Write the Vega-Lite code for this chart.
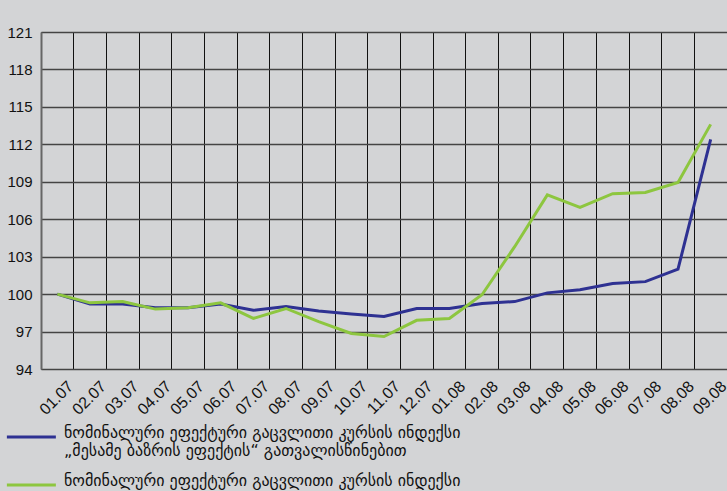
{
  "$schema": "https://vega.github.io/schema/vega-lite/v6.json",
  "width": 686,
  "height": 337,
  "autosize": {"type": "none"},
  "padding": {"left": 41, "top": 32, "right": 0, "bottom": 122},
  "background": "#d3d4d6",
  "config": {
    "view": {"stroke": null},
    "font": "Liberation Sans"
  },
  "data": {
    "values": [
      {"period": "01.07", "series": "ნომინალური ეფექტური გაცვლითი კურსის ინდექსი\n„მესამე ბაზრის ეფექტის“ გათვალისწინებით", "value": 100.0},
      {"period": "02.07", "series": "ნომინალური ეფექტური გაცვლითი კურსის ინდექსი\n„მესამე ბაზრის ეფექტის“ გათვალისწინებით", "value": 99.2},
      {"period": "03.07", "series": "ნომინალური ეფექტური გაცვლითი კურსის ინდექსი\n„მესამე ბაზრის ეფექტის“ გათვალისწინებით", "value": 99.2},
      {"period": "04.07", "series": "ნომინალური ეფექტური გაცვლითი კურსის ინდექსი\n„მესამე ბაზრის ეფექტის“ გათვალისწინებით", "value": 98.9},
      {"period": "05.07", "series": "ნომინალური ეფექტური გაცვლითი კურსის ინდექსი\n„მესამე ბაზრის ეფექტის“ გათვალისწინებით", "value": 98.9},
      {"period": "06.07", "series": "ნომინალური ეფექტური გაცვლითი კურსის ინდექსი\n„მესამე ბაზრის ეფექტის“ გათვალისწინებით", "value": 99.2},
      {"period": "07.07", "series": "ნომინალური ეფექტური გაცვლითი კურსის ინდექსი\n„მესამე ბაზრის ეფექტის“ გათვალისწინებით", "value": 98.7},
      {"period": "08.07", "series": "ნომინალური ეფექტური გაცვლითი კურსის ინდექსი\n„მესამე ბაზრის ეფექტის“ გათვალისწინებით", "value": 99.0},
      {"period": "09.07", "series": "ნომინალური ეფექტური გაცვლითი კურსის ინდექსი\n„მესამე ბაზრის ეფექტის“ გათვალისწინებით", "value": 98.65},
      {"period": "10.07", "series": "ნომინალური ეფექტური გაცვლითი კურსის ინდექსი\n„მესამე ბაზრის ეფექტის“ გათვალისწინებით", "value": 98.4},
      {"period": "11.07", "series": "ნომინალური ეფექტური გაცვლითი კურსის ინდექსი\n„მესამე ბაზრის ეფექტის“ გათვალისწინებით", "value": 98.2},
      {"period": "12.07", "series": "ნომინალური ეფექტური გაცვლითი კურსის ინდექსი\n„მესამე ბაზრის ეფექტის“ გათვალისწინებით", "value": 98.85},
      {"period": "01.08", "series": "ნომინალური ეფექტური გაცვლითი კურსის ინდექსი\n„მესამე ბაზრის ეფექტის“ გათვალისწინებით", "value": 98.85},
      {"period": "02.08", "series": "ნომინალური ეფექტური გაცვლითი კურსის ინდექსი\n„მესამე ბაზრის ეფექტის“ გათვალისწინებით", "value": 99.25},
      {"period": "03.08", "series": "ნომინალური ეფექტური გაცვლითი კურსის ინდექსი\n„მესამე ბაზრის ეფექტის“ გათვალისწინებით", "value": 99.4},
      {"period": "04.08", "series": "ნომინალური ეფექტური გაცვლითი კურსის ინდექსი\n„მესამე ბაზრის ეფექტის“ გათვალისწინებით", "value": 100.1},
      {"period": "05.08", "series": "ნომინალური ეფექტური გაცვლითი კურსის ინდექსი\n„მესამე ბაზრის ეფექტის“ გათვალისწინებით", "value": 100.35},
      {"period": "06.08", "series": "ნომინალური ეფექტური გაცვლითი კურსის ინდექსი\n„მესამე ბაზრის ეფექტის“ გათვალისწინებით", "value": 100.85},
      {"period": "07.08", "series": "ნომინალური ეფექტური გაცვლითი კურსის ინდექსი\n„მესამე ბაზრის ეფექტის“ გათვალისწინებით", "value": 101.0},
      {"period": "08.08", "series": "ნომინალური ეფექტური გაცვლითი კურსის ინდექსი\n„მესამე ბაზრის ეფექტის“ გათვალისწინებით", "value": 102.0},
      {"period": "09.08", "series": "ნომინალური ეფექტური გაცვლითი კურსის ინდექსი\n„მესამე ბაზრის ეფექტის“ გათვალისწინებით", "value": 112.4},
      {"period": "01.07", "series": "ნომინალური ეფექტური გაცვლითი კურსის ინდექსი", "value": 100.0},
      {"period": "02.07", "series": "ნომინალური ეფექტური გაცვლითი კურსის ინდექსი", "value": 99.3},
      {"period": "03.07", "series": "ნომინალური ეფექტური გაცვლითი კურსის ინდექსი", "value": 99.4},
      {"period": "04.07", "series": "ნომინალური ეფექტური გაცვლითი კურსის ინდექსი", "value": 98.8},
      {"period": "05.07", "series": "ნომინალური ეფექტური გაცვლითი კურსის ინდექსი", "value": 98.9},
      {"period": "06.07", "series": "ნომინალური ეფექტური გაცვლითი კურსის ინდექსი", "value": 99.3},
      {"period": "07.07", "series": "ნომინალური ეფექტური გაცვლითი კურსის ინდექსი", "value": 98.05},
      {"period": "08.07", "series": "ნომინალური ეფექტური გაცვლითი კურსის ინდექსი", "value": 98.85},
      {"period": "09.07", "series": "ნომინალური ეფექტური გაცვლითი კურსის ინდექსი", "value": 97.8},
      {"period": "10.07", "series": "ნომინალური ეფექტური გაცვლითი კურსის ინდექსი", "value": 96.85},
      {"period": "11.07", "series": "ნომინალური ეფექტური გაცვლითი კურსის ინდექსი", "value": 96.6},
      {"period": "12.07", "series": "ნომინალური ეფექტური გაცვლითი კურსის ინდექსი", "value": 97.9},
      {"period": "01.08", "series": "ნომინალური ეფექტური გაცვლითი კურსის ინდექსი", "value": 98.05},
      {"period": "02.08", "series": "ნომინალური ეფექტური გაცვლითი კურსის ინდექსი", "value": 99.95},
      {"period": "03.08", "series": "ნომინალური ეფექტური გაცვლითი კურსის ინდექსი", "value": 103.8},
      {"period": "04.08", "series": "ნომინალური ეფექტური გაცვლითი კურსის ინდექსი", "value": 107.95},
      {"period": "05.08", "series": "ნომინალური ეფექტური გაცვლითი კურსის ინდექსი", "value": 106.95},
      {"period": "06.08", "series": "ნომინალური ეფექტური გაცვლითი კურსის ინდექსი", "value": 108.05},
      {"period": "07.08", "series": "ნომინალური ეფექტური გაცვლითი კურსის ინდექსი", "value": 108.15},
      {"period": "08.08", "series": "ნომინალური ეფექტური გაცვლითი კურსის ინდექსი", "value": 108.95},
      {"period": "09.08", "series": "ნომინალური ეფექტური გაცვლითი კურსის ინდექსი", "value": 113.6}
    ]
  },
  "mark": {"type": "line", "strokeWidth": 3, "strokeJoin": "miter"},
  "encoding": {
    "x": {
      "field": "period",
      "type": "ordinal",
      "sort": null,
      "bandPosition": 0.5,
      "scale": {"type": "band", "paddingInner": 0, "paddingOuter": 0},
      "axis": {
        "title": null,
        "bandPosition": 0,
        "domain": false,
        "ticks": false,
        "tickSize": 0,
        "grid": true,
        "gridColor": "#111111",
        "gridWidth": 1,
        "labelAngle": -45,
        "labelAlign": "right",
        "labelBaseline": "alphabetic",
        "labelOffset": 17,
        "labelPadding": 18,
        "labelFontSize": 16,
        "labelColor": "#111111",
        "labelOverlap": false,
        "labelBound": false,
        "labelFlush": false
      }
    },
    "y": {
      "field": "value",
      "type": "quantitative",
      "scale": {"domain": [94, 121], "nice": false, "zero": false},
      "axis": {
        "title": null,
        "values": [94, 97, 100, 103, 106, 109, 112, 115, 118, 121],
        "domain": true,
        "domainColor": "#666666",
        "domainWidth": 2,
        "ticks": false,
        "tickSize": 0,
        "grid": true,
        "gridColor": "#444444",
        "gridWidth": 1.5,
        "labelPadding": 9,
        "labelFontSize": 15,
        "labelColor": "#111111"
      }
    },
    "color": {
      "field": "series",
      "type": "nominal",
      "sort": null,
      "scale": {
        "domain": [
          "ნომინალური ეფექტური გაცვლითი კურსის ინდექსი\n„მესამე ბაზრის ეფექტის“ გათვალისწინებით",
          "ნომინალური ეფექტური გაცვლითი კურსის ინდექსი"
        ],
        "range": ["#2e3192", "#8dc63f"]
      },
      "legend": {
        "title": null,
        "orient": "none",
        "legendX": -36,
        "legendY": 397,
        "direction": "vertical",
        "symbolType": "M-1,0H7",
        "symbolSize": 150,
        "symbolStrokeWidth": 3,
        "symbolFillColor": "transparent",
        "labelExpr": "split(datum.label, '\\n')",
        "labelFont": "DejaVu Sans",
        "labelFontSize": 16,
        "labelColor": "#111111",
        "labelLimit": 700,
        "labelOffset": 43,
        "labelBaseline": "top",
        "rowPadding": 14,
        "encode": {
          "labels": {"update": {"dy": {"value": -12}}}
        }
      }
    }
  }
}
